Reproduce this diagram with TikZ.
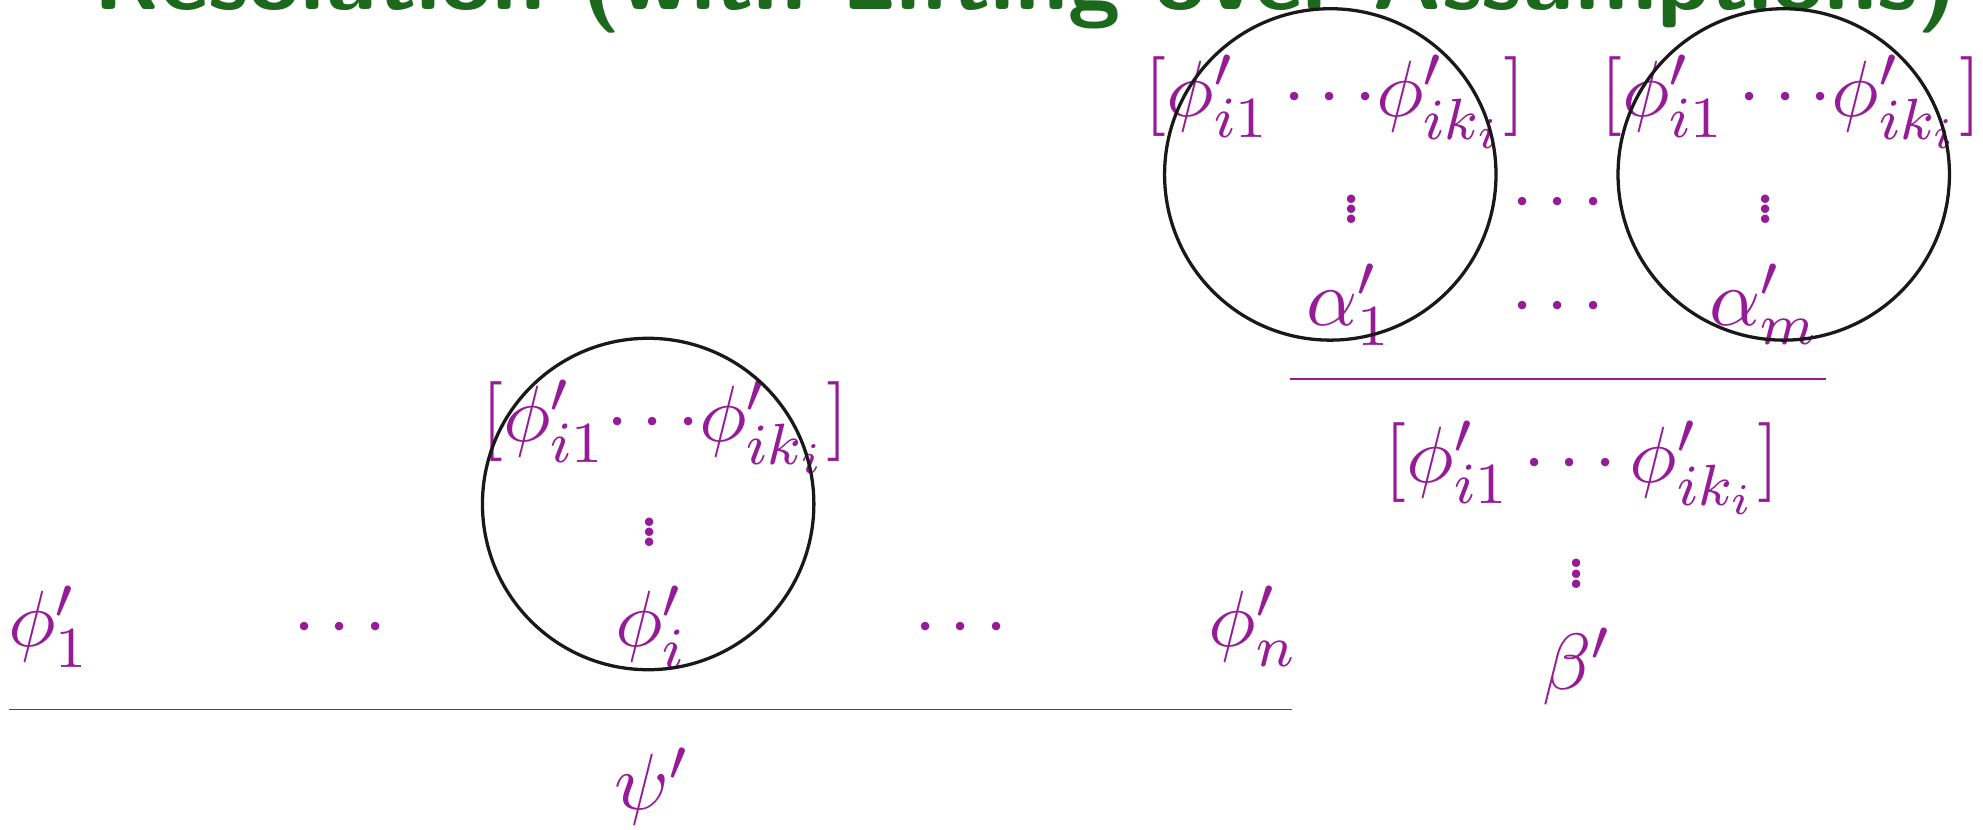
\documentclass[tikz,border=0pt,11pt]{standalone}
\definecolor{formulapurple}{RGB}{150,27,150}
\definecolor{titlegreen}{RGB}{28,105,30}
\newcommand{\wdots}{{\cdot}\mkern3mu{\cdot}\mkern3mu{\cdot}}
\newcommand{\tightvdots}{\vbox{\baselineskip=1.4pt\lineskiplimit=0pt\hbox{.}\hbox{.}\hbox{.}}}
\begin{document}
\begin{tikzpicture}[
  formula/.style={text=formulapurple, inner sep=0pt, anchor=base},
  vdotsnode/.style={text=formulapurple, inner sep=0pt},
  assumption/.style={draw=black!90, circle, line width=0.45pt, minimum size=1.6cm, inner sep=0pt},
  inferline/.style={draw=formulapurple, line width=0.25pt}
]
\useasboundingbox (0,0) rectangle (9.573,-4.005);
\node[anchor=base west, inner sep=0pt, text=titlegreen, font=\fontsize{13}{15}\sffamily\bfseries\selectfont] (title) at (0.446,-0.048) {Resolution (with Lifting over Assumptions)};

\node[formula] (lst1) at (6.447,-0.562) {$[\phi'_{i1}\,\wdots\phi'_{ik_i}]$};
\node[formula] (lstm) at (8.645,-0.562) {$[\phi'_{i1}\,\wdots\phi'_{ik_i}]$};
\node[vdotsnode] (vd1) at (6.526,-1.010) {\tightvdots};
\node[vdotsnode] (vdm) at (8.522,-1.010) {\tightvdots};
\node[formula] (hdots1) at (7.521,-1.067) {$\wdots$};
\node[formula] (alpha1) at (6.514,-1.569) {$\alpha'_1$};
\node[formula] (hdots2) at (7.521,-1.569) {$\wdots$};
\node[formula] (alpham) at (8.516,-1.569) {$\alpha'_m$};
\node[assumption] (e1) at (6.422,-0.842) {};
\node[assumption] (em) at (8.611,-0.842) {};
\coordinate (rl) at (6.227,-1.828);
\coordinate (rr) at (8.816,-1.828);
\draw[inferline] (rl) -- (rr);
\node[formula] (lstr) at (7.637,-2.328) {$[\phi'_{i1}\,\wdots\,\phi'_{ik_i}]$};
\node[vdotsnode] (vdr) at (7.613,-2.770) {\tightvdots};
\node[formula] (beta) at (7.613,-3.327) {$\beta'$};

\node[formula] (lsti) at (3.211,-2.131) {$[\phi'_{i1}\wdots\phi'_{ik_i}]$};
\node[vdotsnode] (vdi) at (3.138,-2.570) {\tightvdots};
\node[formula] (phi1) at (0.237,-3.123) {$\phi'_1$};
\node[formula] (hdots3) at (1.642,-3.123) {$\wdots$};
\node[formula] (phii) at (3.144,-3.123) {$\phi'_i$};
\node[formula] (hdots4) at (4.640,-3.123) {$\wdots$};
\node[formula] (phin) at (6.050,-3.123) {$\phi'_n$};
\node[assumption] (ei) at (3.129,-2.433) {};
\coordinate (ll) at (0.043,-3.425);
\coordinate (lr) at (6.239,-3.425);
\draw[inferline] (ll) -- (lr);
\node[formula] (psi) at (3.150,-3.907) {$\psi'$};
\end{tikzpicture}
\end{document}
